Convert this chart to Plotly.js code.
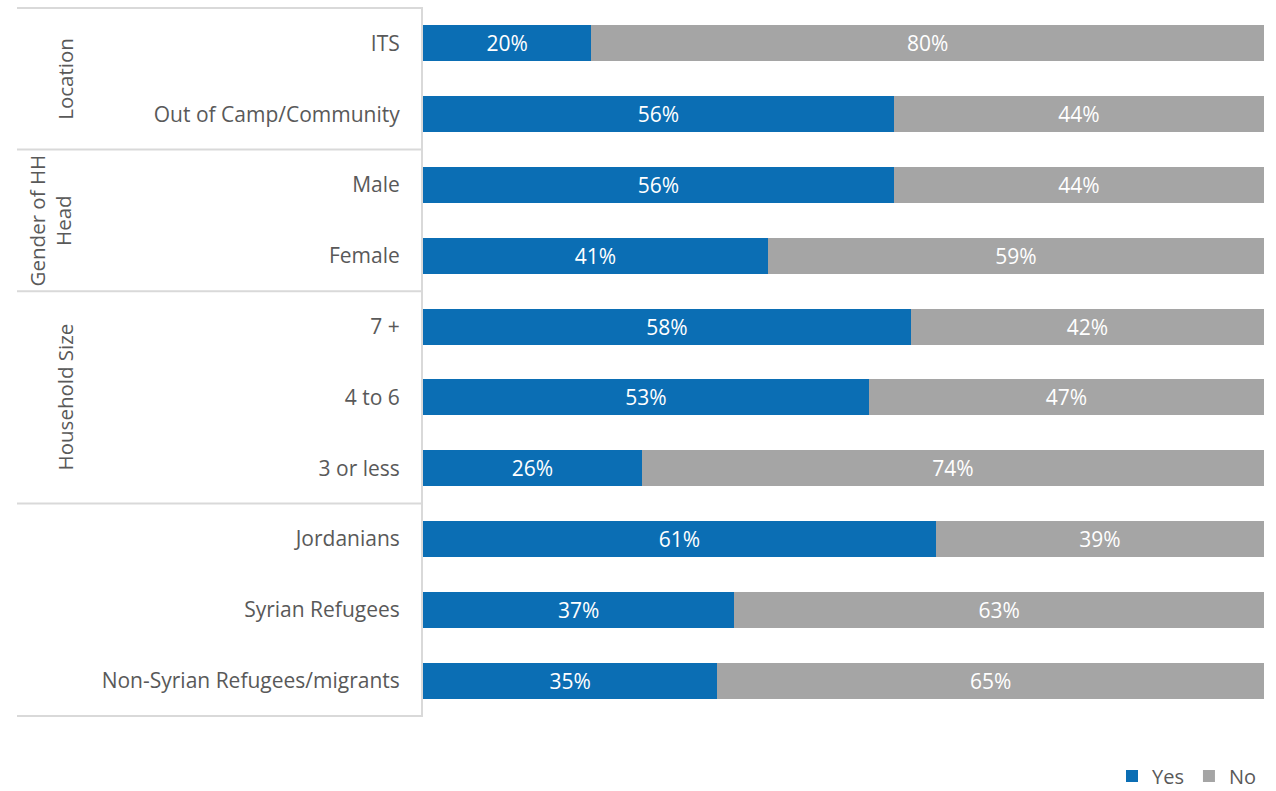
<!DOCTYPE html>
<html>
<head>
<meta charset="utf-8">
<script src="https://cdn.plot.ly/plotly-3.0.1.min.js"></script>
<style>html,body{margin:0;padding:0;background:#fff;}#chart{width:1276px;height:791px;}</style>
</head>
<body>
<div id="chart"></div>
<script>
const categories = ["ITS", "Out of Camp/Community", "Male", "Female", "7 +", "4 to 6", "3 or less", "Jordanians", "Syrian Refugees", "Non-Syrian Refugees/migrants"];
const yesValues = [20, 56, 56, 41, 58, 53, 26, 61, 37, 35];
const noValues = [80, 44, 44, 59, 42, 47, 74, 39, 63, 65];
const groupLabels = ["Location", "Gender of HH<br>Head", "Household Size"];
const groupCenters = [0.5, 2.5, 5];
const groupBoundaries = [-0.5, 1.5, 3.5, 6.5, 9.5];

const FONT = "Open Sans, Liberation Sans, sans-serif";
const mk = (name, vals, color) => ({
  type: "bar", orientation: "h", name: name,
  y: categories, x: vals,
  text: vals.map(v => v + "%"),
  textposition: "inside", insidetextanchor: "middle", constraintext: "none",
  textangle: 0,
  textfont: {color: "#ffffff", size: 21, family: FONT},
  marker: {color: color, line: {width: 0}},
  hoverinfo: "skip"
});
const data = [mk("Yes", yesValues, "#0B6EB4"), mk("No", noValues, "#A5A5A5")];

const x0 = (17 - 423) / 841;
const shapes = groupBoundaries.map(b => ({
  type: "line", xref: "paper", yref: "y", x0: x0, x1: 0, y0: b, y1: b,
  line: {color: "#d9d9d9", width: 2}
}));
const annotations = groupLabels.map((t, i) => ({
  xref: "paper", yref: "y", x: (50 - 423) / 841, y: groupCenters[i],
  text: t, textangle: -90, showarrow: false, xanchor: "center", yanchor: "middle",
  font: {family: FONT, size: 20.5, color: "#595959"}
}));
annotations[0].x = (65 - 423) / 841;
annotations[2].x = (65 - 423) / 841;

const layout = {
  width: 1276, height: 791,
  margin: {l: 423, r: 12, t: 7, b: 74, pad: 0, autoexpand: false},
  barmode: "stack", bargap: 0.49,
  paper_bgcolor: "#ffffff", plot_bgcolor: "#ffffff",
  font: {family: FONT, color: "#595959", size: 20},
  xaxis: {range: [0, 100], visible: false, showgrid: false, zeroline: false, fixedrange: true},
  yaxis: {
    type: "category", autorange: "reversed", showgrid: false, zeroline: false,
    showline: true, linecolor: "#d9d9d9", linewidth: 2,
    ticks: "", ticklabelstandoff: 17,
    tickfont: {family: FONT, size: 21, color: "#595959"}
  },
  showlegend: true,
  legend: {orientation: "h", x: 1262 / 1276, xanchor: "right", xref: "container", yref: "container",
    y: 15 / 791, yanchor: "middle",
    font: {family: FONT, size: 20, color: "#595959"}, traceorder: "normal",
    itemwidth: 30, tracegroupgap: 0},
  shapes: shapes,
  annotations: annotations
};
Plotly.newPlot("chart", data, layout, {displayModeBar: false, staticPlot: true});
</script>
</body>
</html>
